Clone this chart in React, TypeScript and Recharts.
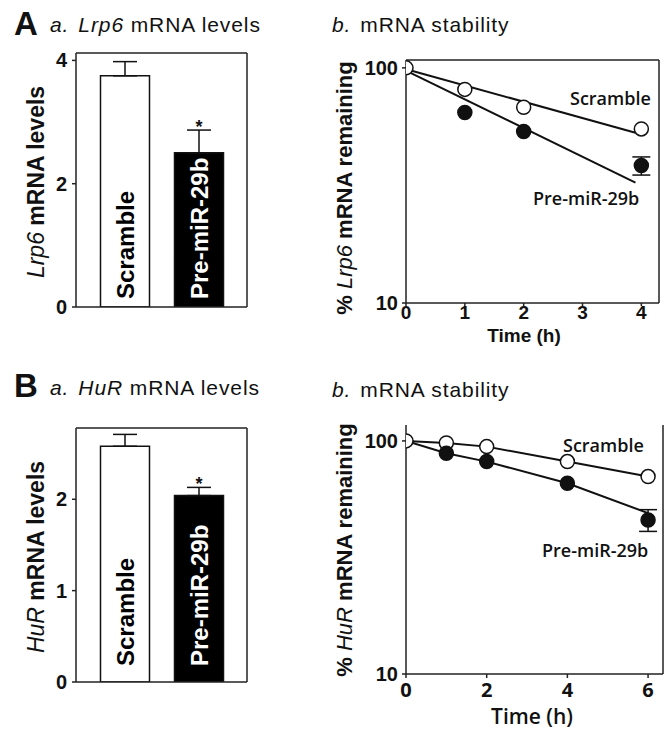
import React from 'react';
import {
  BarChart,
  Bar,
  Cell,
  ComposedChart,
  CartesianGrid,
  XAxis,
  YAxis,
  ErrorBar,
  LabelList,
  Line,
  Scatter,
} from 'recharts';

// ---------- data ----------
const barCategories = ['Scramble', 'Pre-miR-29b'];
const barFills = ['#ffffff', '#000000'];
const barTextColors = ['#000000', '#ffffff'];
const significance = ['', '*'];

const lrp6Levels = [3.75, 2.5];
const lrp6LevelErr = [0.23, 0.37];
const hurLevels = [2.58, 2.04];
const hurLevelErr = [0.13, 0.09];

// Lrp6 stability (log %), time in h
const lrp6ScrambleTimes = [0, 1, 2, 4];
const lrp6Scramble = [100, 81, 68, 55];
const lrp6PreTimes = [1, 2, 4];
const lrp6Pre = [64.6, 53.6, 38.4];
const lrp6PreErr = [null, null, 3.4];
const lrp6FitTimes = [0.05, 3.9];
const lrp6ScrambleFit = [98, 53];
const lrp6PreFit = [96, 32.5];

// HuR stability (log %), time in h
const hurScrambleTimes = [0, 1, 2, 4, 6];
const hurScramble = [100, 98, 94.5, 81.5, 70.3];
const hurPreTimes = [1, 2, 4, 6];
const hurPre = [88.5, 81.5, 65.8, 45.8];
const hurPreErr = [null, null, null, 4.9];
const hurPreLineTimes = [0, 1, 2, 4, 6];
const hurPreLine = [100, 88.5, 81.5, 65.8, 49];

const stabilityTicksA = [0, 1, 2, 3, 4];
const stabilityTicksB = [0, 2, 4, 6];
const logTicks = [10, 100];

// ---------- helpers ----------
const ARIAL = "'Liberation Sans', Arial, sans-serif";
const CAL = "'Open Sans', sans-serif";
const INK = '#111';

const barRows = (levels: number[], errs: number[]) =>
  barCategories.map((name, i) => ({
    name,
    value: levels[i],
    err: [0, errs[i]],
    sig: significance[i],
  }));

const pts = (times: number[], vals: number[], errs?: (number | null)[]) =>
  times.map((t, i) => ({ t, v: vals[i], e: errs ? errs[i] : null }));

const getBox = (p: any) => {
  const vb = p.viewBox && p.viewBox.width !== undefined ? p.viewBox : p;
  return { x: Number(vb.x), y: Number(vb.y), width: Number(vb.width), height: Number(vb.height) };
};

const makeBarText = (offset: number) => (p: any) => {
  const { x, y, width, height } = getBox(p);
  const i = p.index ?? 0;
  const cx = x + width / 2 + 8.5;
  const bottom = y + height - offset;
  return (
    <text
      transform={`translate(${cx},${bottom}) rotate(-90)`}
      fill={barTextColors[i]}
      fontSize={24}
      fontWeight={700}
      fontFamily={ARIAL}
    >
      {barCategories[i]}
    </text>
  );
};

const makeStar = (levels: number[], errs: number[]) => (p: any) => {
  const { x, y, width, height } = getBox(p);
  const i = p.index ?? 0;
  if (!significance[i]) return null;
  const perUnit = height / levels[i];
  const top = y - errs[i] * perUnit;
  return (
    <text x={x + width / 2} y={top + 3} textAnchor="middle" fontSize={18} fontWeight={700} fontFamily={ARIAL} fill={INK}>
      {significance[i]}
    </text>
  );
};

const openDot = (p: any) => <circle cx={p.cx} cy={p.cy} r={7} fill="#fff" stroke={INK} strokeWidth={1.5} />;
const fullDot = (p: any) => <circle cx={p.cx} cy={p.cy} r={7} fill={INK} stroke={INK} strokeWidth={1.5} />;

const axisStroke = { stroke: '#222', strokeWidth: 1.5 };
const tickFont = { fill: INK, fontSize: 20, fontWeight: 700, fontFamily: ARIAL };

const topEdge = (p: any) => (p && p.offset ? [p.offset.top] : []);
const rightEdge = (p: any) => (p && p.offset ? [p.offset.left + p.offset.width] : []);

function LevelsChart({ levels, errs, yMax, ticks, textOffset, marginTop }: any) {
  const rows = barRows(levels, errs);
  return (
    <BarChart
      width={260}
      height={marginTop + 254 + 20}
      data={rows}
      margin={{ top: marginTop, right: 13, bottom: 19, left: 0 }}
      barSize={49}
    >
      <CartesianGrid
        stroke="#222"
        strokeWidth={1.5}
        horizontalCoordinatesGenerator={topEdge}
        verticalCoordinatesGenerator={rightEdge}
      />
      <XAxis dataKey="name" tick={false} tickLine={false} height={1} padding={{ left: 11.5, right: 11.5 }} axisLine={axisStroke} />
      <YAxis
        domain={[0, yMax]}
        ticks={ticks}
        allowDataOverflow
        width={76}
        tickSize={4}
        tickMargin={5}
        tick={tickFont}
        axisLine={axisStroke}
        tickLine={axisStroke}
      />
      <Bar dataKey="value" isAnimationActive={false} stroke={INK} strokeWidth={1.5}>
        {rows.map((r, i) => (
          <Cell key={r.name} fill={barFills[i]} />
        ))}
        <ErrorBar dataKey="err" direction="y" width={12} stroke={INK} strokeWidth={1.5} />
        <LabelList dataKey="name" content={makeBarText(textOffset)} />
        <LabelList dataKey="sig" content={makeStar(levels, errs)} />
      </Bar>
    </BarChart>
  );
}

export default function App() {
  const aScr = pts(lrp6ScrambleTimes, lrp6Scramble);
  const aPre = pts(lrp6PreTimes, lrp6Pre, lrp6PreErr);
  const aScrFit = pts(lrp6FitTimes, lrp6ScrambleFit);
  const aPreFit = pts(lrp6FitTimes, lrp6PreFit);
  const bScr = pts(hurScrambleTimes, hurScramble);
  const bPre = pts(hurPreTimes, hurPre, hurPreErr);
  const bPreLine = pts(hurPreLineTimes, hurPreLine);

  return (
    <div style={{ position: 'absolute', left: 0, top: 0, width: 672, height: 731, background: '#fff' }}>
      {/* A-a */}
      <div style={{ position: 'absolute', left: 0, top: 0 }}>
        <LevelsChart levels={lrp6Levels} errs={lrp6LevelErr} yMax={4.12} ticks={[0, 2, 4]} textOffset={8} marginTop={53} />
      </div>
      {/* B-a */}
      <div style={{ position: 'absolute', left: 0, top: 360 }}>
        <LevelsChart levels={hurLevels} errs={hurLevelErr} yMax={2.78} ticks={[0, 1, 2]} textOffset={16} marginTop={68} />
      </div>

      {/* A-b */}
      <div style={{ position: 'absolute', left: 320, top: 0 }}>
        <ComposedChart width={352} height={345} margin={{ top: 60, right: 13, bottom: 20, left: 0 }}>
          <CartesianGrid
            stroke="#222"
            strokeWidth={1.5}
            horizontalCoordinatesGenerator={topEdge}
            verticalCoordinatesGenerator={rightEdge}
          />
          <XAxis
            type="number"
            dataKey="t"
            domain={[0, 4.3]}
            ticks={stabilityTicksA}
            allowDataOverflow
            height={22}
            tickSize={3}
            tickMargin={0}
            tick={{ ...tickFont, fontSize: 19 }}
            axisLine={axisStroke}
            tickLine={axisStroke}
          />
          <YAxis
            scale="log"
            domain={[10, 108]}
            ticks={logTicks}
            allowDataOverflow
            width={86}
            tickSize={4}
            tickMargin={4}
            tick={tickFont}
            axisLine={axisStroke}
            tickLine={axisStroke}
          />
          <Scatter data={aScr} dataKey="v" shape={openDot} isAnimationActive={false} />
          <Scatter data={aPre} dataKey="v" shape={fullDot} isAnimationActive={false}>
            <ErrorBar dataKey="e" direction="y" width={9} stroke={INK} strokeWidth={1.5} />
          </Scatter>
          <Line data={aScrFit} dataKey="v" stroke={INK} strokeWidth={2} dot={false} isAnimationActive={false} />
          <Line data={aPreFit} dataKey="v" stroke={INK} strokeWidth={2} dot={false} isAnimationActive={false} />
        </ComposedChart>
      </div>

      {/* B-b */}
      <div style={{ position: 'absolute', left: 320, top: 360 }}>
        <ComposedChart width={352} height={371} margin={{ top: 65, right: 9, bottom: 37, left: 0 }}>
          <CartesianGrid
            stroke="#222"
            strokeWidth={1.5}
            horizontal={false}
            verticalCoordinatesGenerator={rightEdge}
          />
          <XAxis
            type="number"
            dataKey="t"
            domain={[0, 6.37]}
            ticks={stabilityTicksB}
            allowDataOverflow
            height={20}
            tickSize={4}
            tickMargin={5}
            tick={{ fill: INK, fontSize: 20, fontWeight: 700, fontFamily: CAL }}
            axisLine={axisStroke}
            tickLine={axisStroke}
          />
          <YAxis
            scale="log"
            domain={[10, 117]}
            ticks={logTicks}
            allowDataOverflow
            width={86}
            tickSize={4}
            tickMargin={4}
            tick={tickFont}
            axisLine={axisStroke}
            tickLine={axisStroke}
          />
          <Scatter data={bScr} dataKey="v" shape={openDot} isAnimationActive={false} />
          <Scatter data={bPre} dataKey="v" shape={fullDot} isAnimationActive={false}>
            <ErrorBar dataKey="e" direction="y" width={9} stroke={INK} strokeWidth={1.5} />
          </Scatter>
          <Line data={bScr} dataKey="v" stroke={INK} strokeWidth={2} dot={false} isAnimationActive={false} />
          <Line data={bPreLine} dataKey="v" stroke={INK} strokeWidth={2} dot={false} isAnimationActive={false} />
        </ComposedChart>
      </div>

      {/* titles and axis labels */}
      <svg width={672} height={731} style={{ position: 'absolute', left: 0, top: 0, pointerEvents: 'none' }}>
        <g fill={INK} fontFamily={ARIAL}>
          <text x={14} y={35} fontSize={33} fontWeight={700}>A</text>
          <text x={50} y={32} fontSize={21} letterSpacing={0.9}>
            <tspan fontStyle="italic">a.</tspan>
            <tspan dx={9} fontStyle="italic">Lrp6</tspan>
            <tspan> mRNA levels</tspan>
          </text>
          <text x={332} y={32} fontSize={21} letterSpacing={0.9}>
            <tspan fontStyle="italic">b.</tspan>
            <tspan dx={9}>mRNA stability</tspan>
          </text>

          <text x={14} y={397} fontSize={33} fontWeight={700}>B</text>
          <text x={50} y={395} fontSize={21} letterSpacing={0.9}>
            <tspan fontStyle="italic">a.</tspan>
            <tspan dx={9} fontStyle="italic">HuR</tspan>
            <tspan> mRNA levels</tspan>
          </text>
          <text x={332} y={397} fontSize={21} letterSpacing={0.9}>
            <tspan fontStyle="italic">b.</tspan>
            <tspan dx={9}>mRNA stability</tspan>
          </text>

          <text transform="translate(44,182) rotate(-90)" textAnchor="middle" fontSize={23} fontWeight={700}>
            <tspan fontStyle="italic" fontWeight={400}>Lrp6</tspan>
            <tspan> mRNA levels</tspan>
          </text>
          <text transform="translate(44,557) rotate(-90)" textAnchor="middle" fontSize={23} fontWeight={700}>
            <tspan fontStyle="italic" fontWeight={400}>HuR</tspan>
            <tspan> mRNA levels</tspan>
          </text>
          <text transform="translate(352,188) rotate(-90)" textAnchor="middle" fontSize={22} fontWeight={700}>
            <tspan>% </tspan>
            <tspan fontStyle="italic" fontWeight={400}>Lrp6</tspan>
            <tspan> mRNA remaining</tspan>
          </text>
          <text transform="translate(352,550) rotate(-90)" textAnchor="middle" fontSize={22} fontWeight={700}>
            <tspan>% </tspan>
            <tspan fontStyle="italic" fontWeight={400}>HuR</tspan>
            <tspan> mRNA remaining</tspan>
          </text>

          <text x={524} y={342} textAnchor="middle" fontSize={19} fontWeight={700}>Time (h)</text>
        </g>
        <g fill={INK} fontFamily={CAL} fontWeight={600}>
          <text x={532} y={724} textAnchor="middle" fontSize={21}>Time (h)</text>
          <text x={570} y={105} fontSize={18}>Scramble</text>
          <text x={533} y={205} fontSize={18}>Pre-miR-29b</text>
          <text x={563} y={452} fontSize={18}>Scramble</text>
          <text x={542} y={557} fontSize={18}>Pre-miR-29b</text>
        </g>
      </svg>
    </div>
  );
}
